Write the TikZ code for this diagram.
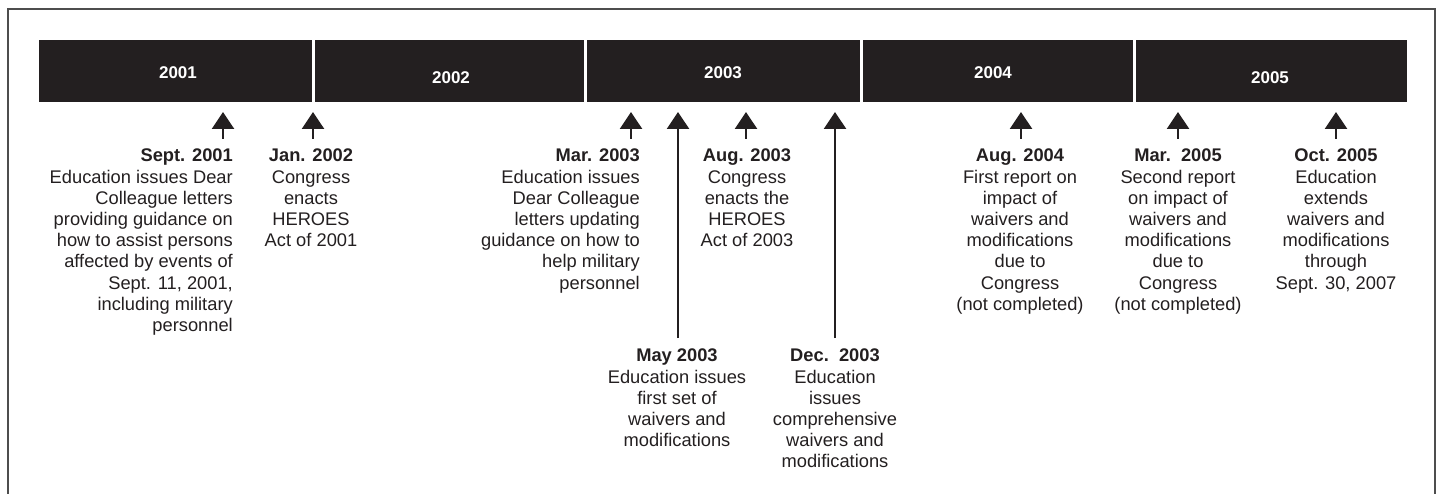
\documentclass[tikz,border=0pt]{standalone}
\usepackage{fontspec}
\setmainfont{Liberation Sans}
\usetikzlibrary{arrows.meta,calc}
\definecolor{ink}{HTML}{231F20}
\definecolor{framegray}{HTML}{4D4D4D}
\begin{document}
\begin{tikzpicture}[x=1pt,y=-1pt,
  seg/.style={fill=ink, draw=none, inner sep=0pt, minimum height=62pt, anchor=north west},
  yearlbl/.style={text=white, font=\fontsize{17}{20}\selectfont\bfseries, inner sep=0pt},
  event/.style={text=ink, font=\fontsize{18.3}{21.2}\selectfont, inner sep=0pt, anchor=north},
  evarrow/.style={draw=ink, line width=2.6pt, -{Triangle[width=22pt,length=17pt]}},
  frameline/.style={draw=framegray, line width=1.4pt}
]
\useasboundingbox (0,0) rectangle (1439,494);
\draw[frameline] (8,494) -- (8,9) -- (1435,9) -- (1435,494);

% bar segments
\node[seg, minimum width=273pt] (s1) at (39,40) {};
\node[seg, minimum width=269pt] (s2) at (315,40) {};
\node[seg, minimum width=273pt] (s3) at (587,40) {};
\node[seg, minimum width=270pt] (s4) at (863,40) {};
\node[seg, minimum width=271pt] (s5) at (1136,40) {};

\node[yearlbl] (y1) at (178,73) {2001};
\node[yearlbl] (y2) at (451,78) {2002};
\node[yearlbl] (y3) at (723,73) {2003};
\node[yearlbl] (y4) at (993,73) {2004};
\node[yearlbl] (y5) at (1270,78) {2005};

% arrow tips
\coordinate (t1) at (223,112);
\coordinate (t2) at (313,112);
\coordinate (t3) at (631,112);
\coordinate (t4) at (678,112);
\coordinate (t5) at (746,112);
\coordinate (t6) at (835,112);
\coordinate (t7) at (1021,112);
\coordinate (t8) at (1178,112);
\coordinate (t9) at (1336,112);

% events
\node[event, anchor=north east, align=right] (e1) at (233,149)
  {\textbf{Sept. 2001}\\Education issues Dear\\Colleague letters\\providing guidance on\\how to assist persons\\affected by events of\\Sept. 11, 2001,\\including military\\personnel\ };
\node[event, align=center] (e2) at (311,149)
  {\textbf{Jan. 2002}\\Congress\\enacts\\HEROES\\Act of 2001};
\node[event, anchor=north east, align=right] (e3) at (640,149)
  {\textbf{Mar. 2003}\\Education issues\\Dear Colleague\\letters updating\\guidance on how to\\help military\\personnel};
\node[event, align=center] (e5) at (747,149)
  {\textbf{Aug. 2003}\\Congress\\enacts the\\HEROES\\Act of 2003};
\node[event, align=center] (e4) at (677,349)
  {\textbf{May 2003}\\Education issues\\first set of\\waivers and\\modifications};
\node[event, align=center] (e6) at (835,349)
  {\textbf{Dec.\ \ 2003}\\Education\\issues\\comprehensive\\waivers and\\modifications};
\node[event, align=center] (e7) at (1020,149)
  {\textbf{Aug. 2004}\\First report on\\impact of\\waivers and\\modifications\\due to\\Congress\\(not completed)};
\node[event, align=center] (e8) at (1178,149)
  {\textbf{Mar.\ \ 2005}\\Second report\\on impact of\\waivers and\\modifications\\due to\\Congress\\(not completed)};
\node[event, align=center] (e9) at (1336,149)
  {\textbf{Oct. 2005}\\Education\\extends\\waivers and\\modifications\\through\\Sept. 30, 2007};

% connectors
\draw[evarrow] ($(t1 |- e1.north)+(0,-10)$) -- (t1);
\draw[evarrow] ($(t2 |- e2.north)+(0,-10)$) -- (t2);
\draw[evarrow] ($(t3 |- e3.north)+(0,-10)$) -- (t3);
\draw[evarrow] ($(t4 |- e4.north)+(0,-11)$) -- (t4);
\draw[evarrow] ($(t5 |- e5.north)+(0,-10)$) -- (t5);
\draw[evarrow] ($(t6 |- e6.north)+(0,-11)$) -- (t6);
\draw[evarrow] ($(t7 |- e7.north)+(0,-10)$) -- (t7);
\draw[evarrow] ($(t8 |- e8.north)+(0,-10)$) -- (t8);
\draw[evarrow] ($(t9 |- e9.north)+(0,-10)$) -- (t9);
\end{tikzpicture}
\end{document}
